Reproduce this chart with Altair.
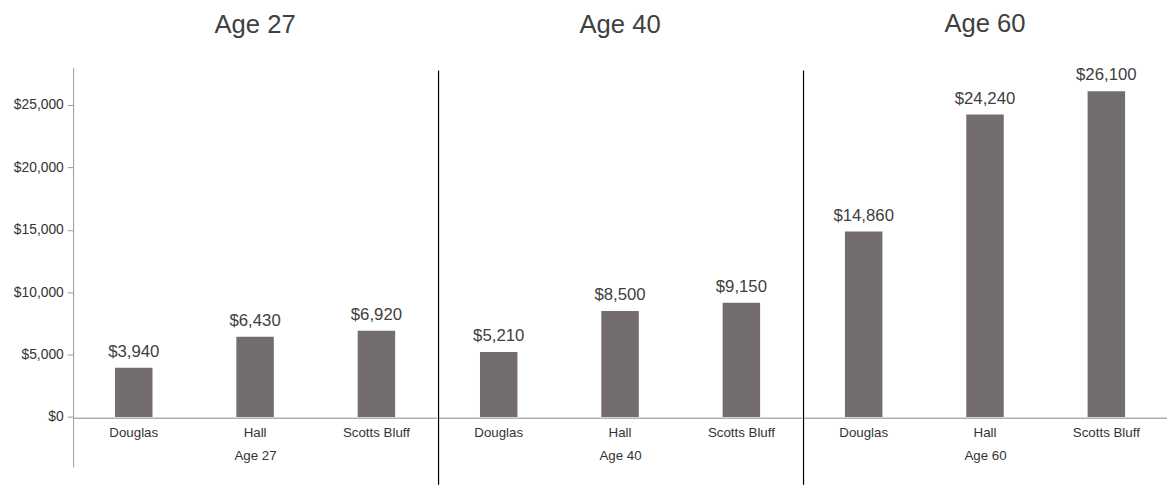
import altair as alt
import pandas as pd

ages = ["Age 27", "Age 40", "Age 60"]
counties = ["Douglas", "Hall", "Scotts Bluff"]
vals_27 = [3940, 6430, 6920]
vals_40 = [5210, 8500, 9150]
vals_60 = [14860, 24240, 26100]
y_ticks = [0, 5000, 10000, 15000, 20000, 25000]

series = {"Age 27": vals_27, "Age 40": vals_40, "Age 60": vals_60}

W = 369
H = 405
FONT = "Arial"
BAR = "#736e6d"
TXT = "#404040"


def panel(age, first):
    df = pd.DataFrame({"county": counties, "value": series[age]})
    yaxis = alt.Axis(values=y_ticks, format="$,.0f", title=None, grid=False,
                     domainColor="#9a9a9a", tickColor="#9a9a9a", tickSize=6,
                     labelFontSize=14, labelColor="#333333", labelPadding=4,
                     labelFont=FONT) if first else None
    y = alt.Y("value:Q", scale=alt.Scale(domain=[-4000, 28000], nice=False, zero=False),
              axis=yaxis)
    x = alt.X("county:N", sort=counties,
              scale=alt.Scale(paddingInner=0, paddingOuter=0),
              axis=alt.Axis(title=age, labelAngle=0, ticks=False, offset=-50,
                            domainColor="#b0b0b0", domainWidth=1.5,
                            labelFontSize=13.5, labelColor="#333333", labelPadding=8,
                            labelFont=FONT, titleFont=FONT, titleFontSize=13.5,
                            titleFontWeight="normal", titleColor="#333333",
                            titlePadding=10))
    bars = alt.Chart(df).mark_bar(color=BAR, size=38).encode(x=x, y=y)
    labels = alt.Chart(df).mark_text(baseline="bottom", dy=-7, fontSize=17,
                                     color=TXT, font=FONT).encode(
        x=alt.X("county:N", sort=counties),
        y="value:Q",
        text=alt.Text("value:Q", format="$,.0f"))
    layers = [bars, labels]
    if not first:
        sep = alt.Chart(pd.DataFrame({"a": [0]})).mark_rule(
            color="#000000", strokeWidth=1.2).encode(
            x=alt.value(0.5), y=alt.value(3), y2=alt.value(H + 18))
        layers.append(sep)
    return alt.layer(*layers).properties(
        width=W, height=H,
        title=alt.TitleParams(age, fontSize=26, fontWeight="normal", color=TXT,
                              font=FONT, anchor="middle", offset=30))


chart = alt.hconcat(*[panel(a, i == 0) for i, a in enumerate(ages)], spacing=0).configure_view(
    stroke=None).configure_concat(spacing=0).properties(
    padding={"left": 5, "top": 0, "right": 0, "bottom": 0})

chart.save("out.html", embed_options={"renderer": "svg", "actions": False})
